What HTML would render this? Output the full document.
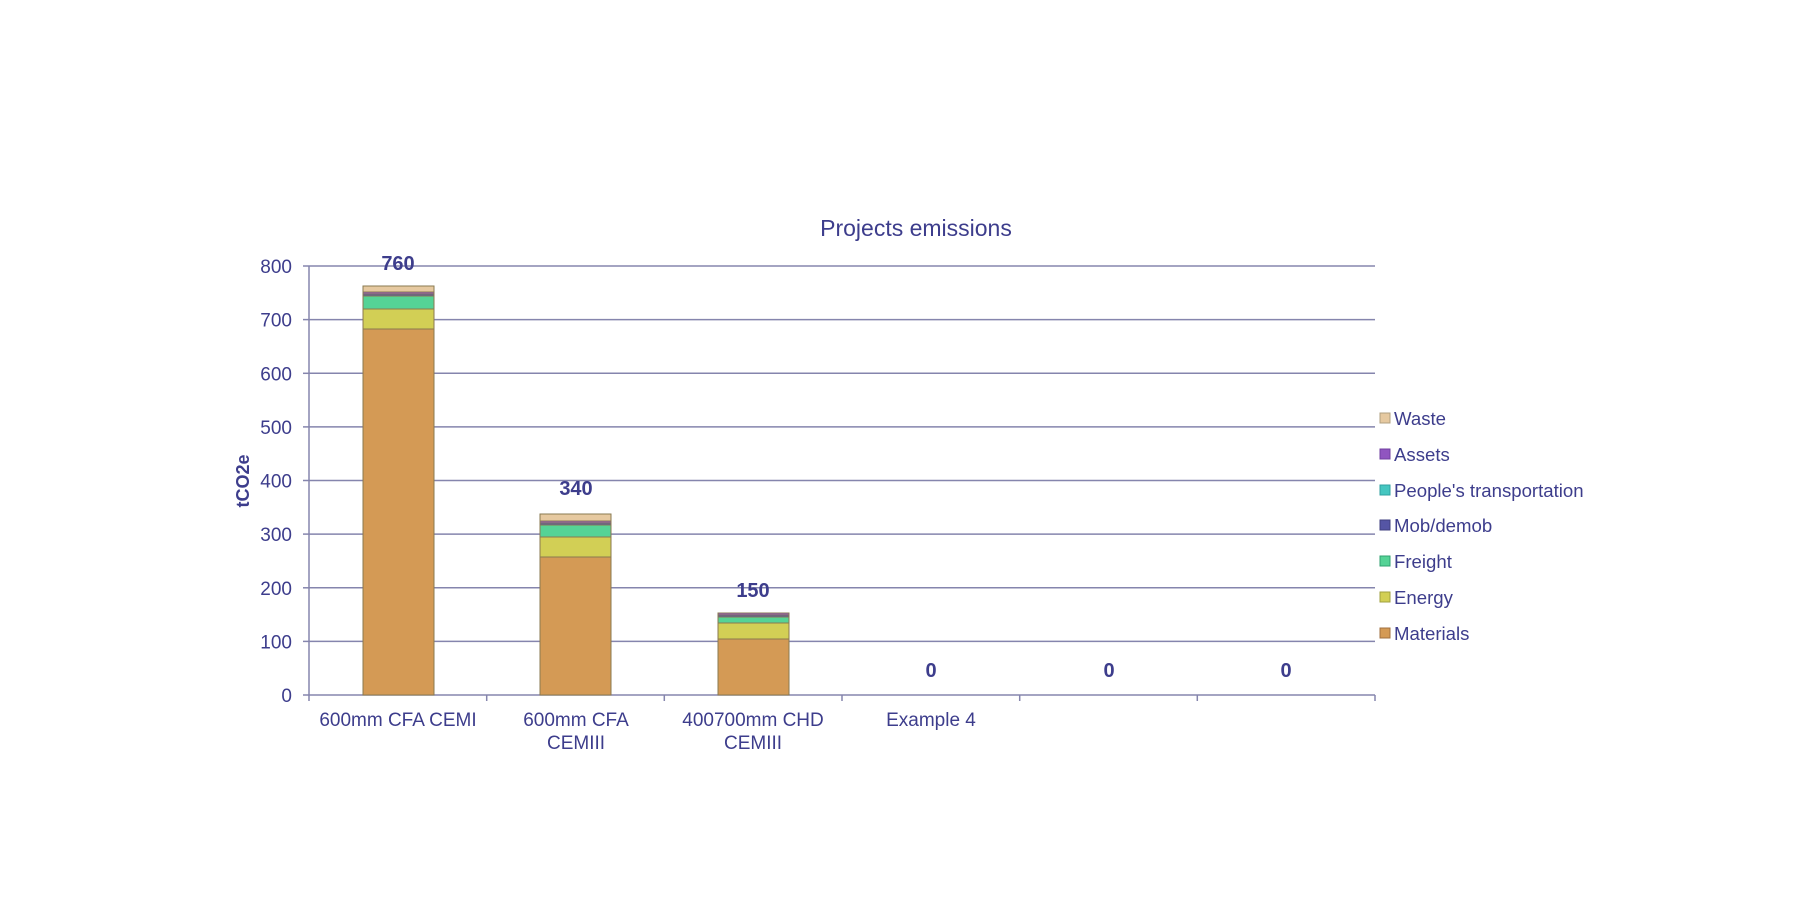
<!DOCTYPE html>
<html><head><meta charset="utf-8"><style>
html,body{margin:0;padding:0;background:#fff;}
svg{display:block;font-family:"Liberation Sans",Arial,sans-serif;}
</style></head><body>
<svg width="1810" height="922" viewBox="0 0 1810 922" xmlns="http://www.w3.org/2000/svg">
<rect width="1810" height="922" fill="#fff"/>
<text x="916" y="236" font-size="23" fill="#3d3d8c" text-anchor="middle">Projects emissions</text>
<g stroke="#8585ad" stroke-width="1.5">
<line x1="309" y1="266" x2="1375" y2="266"/>
<line x1="309" y1="319.6" x2="1375" y2="319.6"/>
<line x1="309" y1="373.3" x2="1375" y2="373.3"/>
<line x1="309" y1="426.9" x2="1375" y2="426.9"/>
<line x1="309" y1="480.5" x2="1375" y2="480.5"/>
<line x1="309" y1="534.1" x2="1375" y2="534.1"/>
<line x1="309" y1="587.8" x2="1375" y2="587.8"/>
<line x1="309" y1="641.4" x2="1375" y2="641.4"/>
<line x1="309" y1="695" x2="1375" y2="695"/>
<line x1="309" y1="266" x2="309" y2="701"/>
<line x1="303" y1="266" x2="309" y2="266"/>
<line x1="303" y1="319.6" x2="309" y2="319.6"/>
<line x1="303" y1="373.3" x2="309" y2="373.3"/>
<line x1="303" y1="426.9" x2="309" y2="426.9"/>
<line x1="303" y1="480.5" x2="309" y2="480.5"/>
<line x1="303" y1="534.1" x2="309" y2="534.1"/>
<line x1="303" y1="587.8" x2="309" y2="587.8"/>
<line x1="303" y1="641.4" x2="309" y2="641.4"/>
<line x1="303" y1="695" x2="309" y2="695"/>
<line x1="486.7" y1="695" x2="486.7" y2="701"/>
<line x1="664.3" y1="695" x2="664.3" y2="701"/>
<line x1="842" y1="695" x2="842" y2="701"/>
<line x1="1019.7" y1="695" x2="1019.7" y2="701"/>
<line x1="1197.3" y1="695" x2="1197.3" y2="701"/>
<line x1="1375" y1="695" x2="1375" y2="701"/>
</g>
<g font-size="19" fill="#3d3d8c" text-anchor="end">
<text x="292" y="273">800</text><text x="292" y="326.6">700</text><text x="292" y="380.3">600</text>
<text x="292" y="433.9">500</text><text x="292" y="487.5">400</text><text x="292" y="541.1">300</text>
<text x="292" y="594.8">200</text><text x="292" y="648.4">100</text><text x="292" y="702">0</text>
</g>
<text transform="translate(249,481) rotate(-90)" font-size="18" font-weight="bold" fill="#3d3d8c" text-anchor="middle">tCO2e</text>
<g stroke="#8a7a50" stroke-width="1">
<rect x="363" y="329" width="71" height="366" fill="#d49a55"/>
<rect x="363" y="309" width="71" height="20" fill="#d2cf55"/>
<rect x="363" y="296" width="71" height="13" fill="#55d396"/>
<rect x="363" y="294" width="71" height="2" fill="#5555a5"/>
<rect x="363" y="292" width="71" height="2" fill="#9055c0"/>
<rect x="363" y="286" width="71" height="6" fill="#e6c9a0"/>
<rect x="540" y="557" width="71" height="138" fill="#d49a55"/>
<rect x="540" y="537" width="71" height="20" fill="#d2cf55"/>
<rect x="540" y="525" width="71" height="12" fill="#55d396"/>
<rect x="540" y="523" width="71" height="2" fill="#5555a5"/>
<rect x="540" y="521" width="71" height="2" fill="#9055c0"/>
<rect x="540" y="514" width="71" height="7" fill="#e6c9a0"/>
<rect x="718" y="639" width="71" height="56" fill="#d49a55"/>
<rect x="718" y="623" width="71" height="16" fill="#d2cf55"/>
<rect x="718" y="617" width="71" height="6" fill="#55d396"/>
<rect x="718" y="615" width="71" height="2" fill="#5555a5"/>
<rect x="718" y="613" width="71" height="2" fill="#9055c0"/>
</g>
<g font-size="20" font-weight="bold" fill="#3d3d8c" text-anchor="middle">
<text x="398" y="270">760</text><text x="576" y="495">340</text><text x="753" y="597">150</text>
<text x="931" y="677">0</text><text x="1109" y="677">0</text><text x="1286" y="677">0</text>
</g>
<g font-size="19" fill="#3d3d8c" text-anchor="middle">
<text x="398" y="726">600mm CFA CEMI</text>
<text x="576" y="726">600mm CFA</text><text x="576" y="749">CEMIII</text>
<text x="753" y="726">400700mm CHD</text><text x="753" y="749">CEMIII</text>
<text x="931" y="726">Example 4</text>
</g>
<g font-size="18.6" fill="#3d3d8c" stroke-width="1">
<rect x="1380" y="413" width="10" height="10" fill="#e6c9a0" stroke="#b0a080"/><text x="1394" y="425">Waste</text>
<rect x="1380" y="449" width="10" height="10" fill="#9055c0" stroke="#7040a0"/><text x="1394" y="461">Assets</text>
<rect x="1380" y="485" width="10" height="10" fill="#45c6c0" stroke="#30a0a0"/><text x="1394" y="497">People's transportation</text>
<rect x="1380" y="520" width="10" height="10" fill="#5555a5" stroke="#404080"/><text x="1394" y="532">Mob/demob</text>
<rect x="1380" y="556" width="10" height="10" fill="#55d396" stroke="#30a070"/><text x="1394" y="568">Freight</text>
<rect x="1380" y="592" width="10" height="10" fill="#d2cf55" stroke="#a0a040"/><text x="1394" y="604">Energy</text>
<rect x="1380" y="628" width="10" height="10" fill="#d49a55" stroke="#a07040"/><text x="1394" y="640">Materials</text>
</g>
</svg>
</body></html>
